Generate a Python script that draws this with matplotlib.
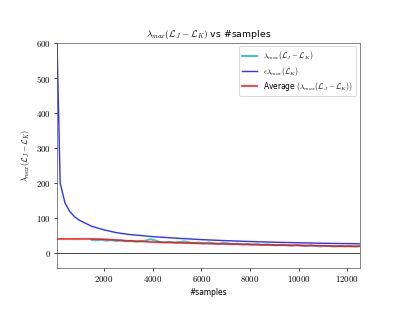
import matplotlib
matplotlib.use("Agg")
import matplotlib.pyplot as plt
from matplotlib.ticker import FuncFormatter

plt.rcParams['mathtext.fontset'] = 'cm'
plt.rcParams['font.family'] = ['DejaVu Sans']

# epsilon * lambda_max(L_K)
blue_x = [70, 200, 400, 600, 800, 1000, 1500, 2000, 2500, 3000, 4000, 5000,
          6000, 7000, 8000, 9000, 10000, 11000, 12000, 12530]
blue_y = [610, 200, 143, 118, 103, 93, 76, 66, 58, 53, 46.5, 42,
          38, 35, 32.5, 30.5, 29, 27.5, 26.5, 26]

# lambda_max(L_J - L_K)
cyan_x = list(range(1500, 12501, 200))
cyan_y = [37, 36, 37.5, 35, 36.5, 34, 35.5, 33, 34.5, 32, 33.5, 35, 39, 36,
          31, 30, 32, 29.5, 31, 33, 30, 28, 29.5, 27, 30, 27.5, 26, 29, 27,
          25, 26.5, 24, 25.5, 23.5, 25, 22.5, 24.5, 23, 21.5, 23.5, 22, 20.5,
          22.5, 21, 19.5, 21.5, 20, 18.5, 20.5, 19, 18, 20, 18.5, 19.5, 18, 19]

# running average
red_x = [70, 1500, 2000, 2500, 3000, 3500, 4000, 5000, 6000, 7000, 8000,
         9000, 10000, 11000, 11500, 12000, 12530]
red_y = [40, 40, 39, 37, 34.5, 33, 31, 29, 27, 25.5, 24, 22.5, 21.5, 20.5,
         19.5, 19, 19]

xticks = [2000, 4000, 6000, 8000, 10000, 12000]
yticks = [0, 100, 200, 300, 400, 500, 600]

fig = plt.figure(figsize=(407/64, 309/64), dpi=64)
ax = fig.add_axes([0.14, 0.133, 0.745, 0.729])

lab = r'$\lambda_{max}(\mathcal{L}_J - \mathcal{L}_K)$'
ax.plot(cyan_x, cyan_y, color='c', lw=2.2, alpha=0.8,
        label=lab)
ax.plot(blue_x, blue_y, color='b', lw=1.6, alpha=0.8,
        label=r'$\epsilon\lambda_{max}(\mathcal{L}_K)$')
ax.plot(red_x, red_y, color='r', lw=2.0, alpha=0.8,
        label=r'Average $(\lambda_{max}(\mathcal{L}_J - \mathcal{L}_K))$')
ax.axhline(0, color='k', lw=1.0, alpha=0.8)

ax.set_xlim(70, 12530)
ax.set_ylim(-43, 602)
ax.set_xticks(xticks)
ax.set_yticks(yticks)
fmt = FuncFormatter(lambda v, p: r'$%d$' % int(v))
ax.xaxis.set_major_formatter(fmt)
ax.yaxis.set_major_formatter(fmt)
ax.tick_params(labelsize=10)
for s in ax.spines.values():
    s.set_color('#555555')

ax.set_title(lab + ' vs #samples', fontsize=10.5)
ax.set_xlabel('#samples', fontsize=8.5)
ax.set_ylabel(lab, fontsize=9)
ax.legend(loc='upper right', fontsize=8.5, labelspacing=0.3)

fig.savefig('out.png', dpi=64)
